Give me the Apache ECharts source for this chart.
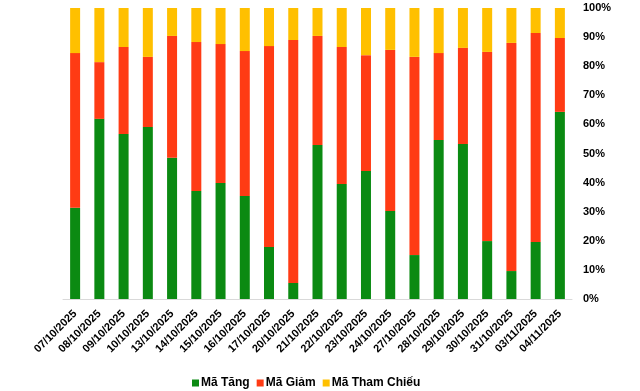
<!DOCTYPE html>
<html>
<head>
<meta charset="utf-8">
<script src="https://cdn.jsdelivr.net/npm/echarts@6/dist/echarts.min.js"></script>
<style>html,body{margin:0;padding:0;background:#fff}#c{width:640px;height:391px}</style>
</head>
<body>
<div id="c"></div>
<script>
const categories = ['07/10/2025','08/10/2025','09/10/2025','10/10/2025','13/10/2025','14/10/2025','15/10/2025','16/10/2025','17/10/2025','20/10/2025','21/10/2025','22/10/2025','23/10/2025','24/10/2025','27/10/2025','28/10/2025','29/10/2025','30/10/2025','31/10/2025','03/11/2025','04/11/2025'];
const maTang = [31.4,61.9,56.7,59.1,48.5,37.1,39.9,35.4,17.9,5.5,52.9,39.5,44.0,30.2,15.1,54.6,53.3,19.9,9.6,19.6,64.3];
const maGiam = [53.1,19.5,29.9,24.1,41.9,51.2,47.7,49.8,69.0,83.5,37.5,47.1,39.8,55.4,68.1,29.9,33.0,65.0,78.4,71.8,25.4];
const maThamChieu = [15.5,18.6,13.4,16.8,9.6,11.7,12.4,14.8,13.1,11.0,9.6,13.4,16.2,14.4,16.8,15.5,13.7,15.1,12.0,8.6,10.3];
const seriesNames = ['Mã Tăng','Mã Giảm','Mã Tham Chiếu'];
const colors = ['#0b8a12','#ff3b14','#ffc000'];

const chart = echarts.init(document.getElementById('c'));
const font = 'Liberation Sans, Arial, sans-serif';
chart.setOption({
  animation: false,
  color: colors,
  grid: {left: 63, right: 68, top: 8, bottom: 92, containLabel: false},
  legend: {
    bottom: -3, left: 187, itemWidth: 7, itemHeight: 7, itemGap: 7,
    icon: 'rect',
    textStyle: {fontFamily: font, fontSize: 12, fontWeight: 'bold', color: '#000', padding: [0,0,0,-3]},
    data: seriesNames
  },
  xAxis: {
    type: 'category', data: categories,
    axisLine: {lineStyle: {color: '#d9d9d9'}},
    axisTick: {show: false},
    axisLabel: {rotate: 45, interval: 0, fontFamily: font, fontSize: 11, fontWeight: 'bold', color: '#000', margin: 13}
  },
  yAxis: {
    type: 'value', position: 'right', min: 0, max: 100, interval: 10,
    splitLine: {show: false},
    axisLine: {show: false}, axisTick: {show: false},
    axisLabel: {formatter: '{value}%', align: 'left', margin: 11, fontFamily: font, fontSize: 11, fontWeight: 'bold', color: '#000'}
  },
  series: [
    {name: seriesNames[0], type: 'bar', stack: 't', barWidth: 10, data: maTang},
    {name: seriesNames[1], type: 'bar', stack: 't', barWidth: 10, data: maGiam},
    {name: seriesNames[2], type: 'bar', stack: 't', barWidth: 10, data: maThamChieu}
  ]
});
</script>
</body>
</html>
